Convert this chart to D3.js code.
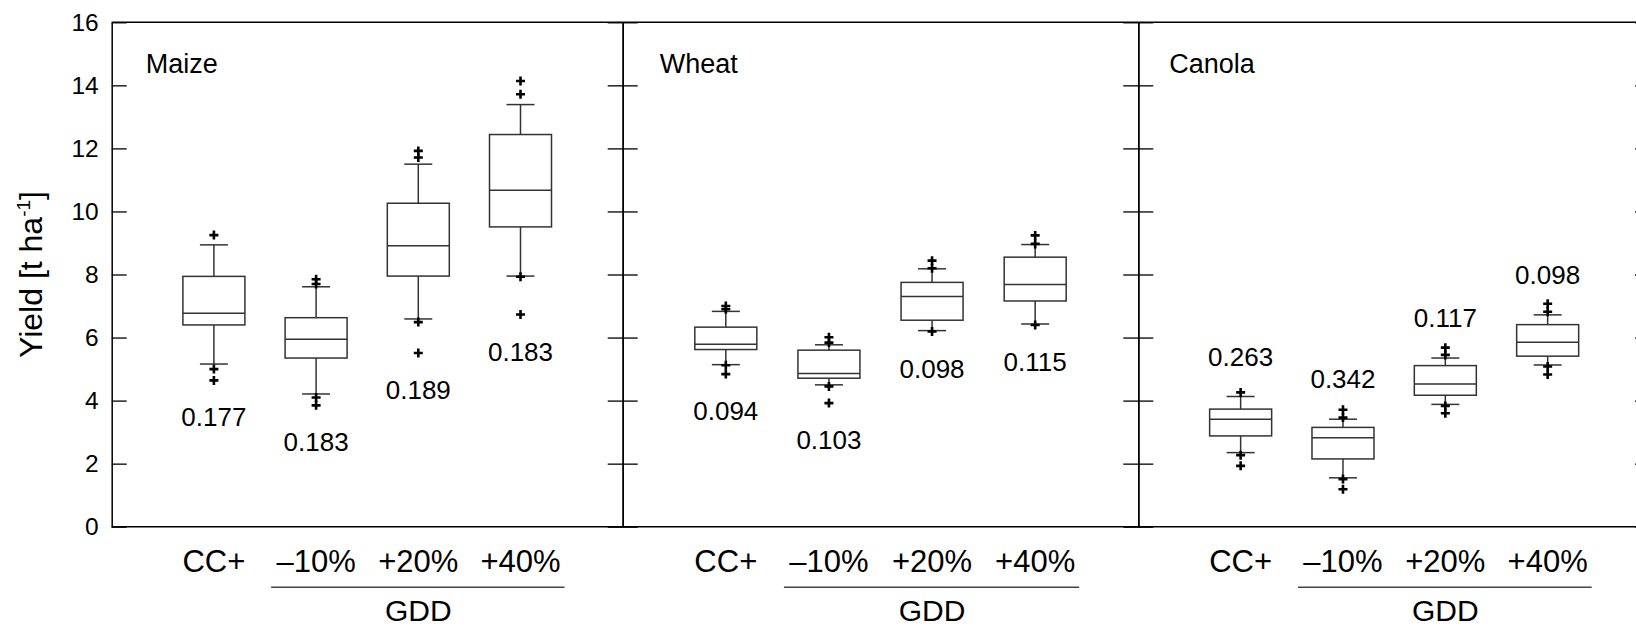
<!DOCTYPE html>
<html>
<head>
<meta charset="utf-8">
<script src="https://cdn.jsdelivr.net/npm/d3@7"></script>
<style>
  html, body { margin: 0; padding: 0; background: #fff; }
  svg { display: block; font-family: "Liberation Sans", Arial, sans-serif; }
</style>
</head>
<body>
<svg id="chart" width="1636" height="628"></svg>
<script>
// ---- data -------------------------------------------------------------
const crops = ["Maize", "Wheat", "Canola"];
const scenarios = ["CC+", "–10%", "+20%", "+40%"];
const groupLabel = "GDD";
const yTicks = [0, 2, 4, 6, 8, 10, 12, 14, 16];

// box statistics per scenario: [lower whisker, Q1, median, Q3, upper whisker]
const maizeStats = [
  [5.16, 6.40, 6.77, 7.94, 8.94],
  [4.21, 5.35, 5.95, 6.63, 7.61],
  [6.59, 7.95, 8.91, 10.26, 11.50],
  [7.95, 9.51, 10.67, 12.44, 13.39]
];
const maizeOutliers = [
  [9.25, 5.00, 4.64],
  [7.85, 7.70, 4.10, 3.85],
  [11.92, 11.71, 6.49, 5.51],
  [14.14, 13.72, 7.93, 6.73]
];
const maizeCV = ["0.177", "0.183", "0.189", "0.183"];

const wheatStats = [
  [5.14, 5.62, 5.79, 6.33, 6.83],
  [4.50, 4.71, 4.86, 5.60, 5.77],
  [6.22, 6.55, 7.30, 7.75, 8.18],
  [6.43, 7.16, 7.68, 8.55, 8.95]
];
const wheatOutliers = [
  [7.00, 6.90, 5.12, 4.84],
  [6.01, 5.84, 4.45, 3.92],
  [8.44, 8.20, 6.19],
  [9.24, 8.97, 6.40]
];
const wheatCV = ["0.094", "0.103", "0.098", "0.115"];

const canolaStats = [
  [2.35, 2.88, 3.41, 3.73, 4.13],
  [1.55, 2.15, 2.82, 3.15, 3.41],
  [3.88, 4.17, 4.53, 5.11, 5.35],
  [5.13, 5.41, 5.85, 6.41, 6.72]
];
const canolaOutliers = [
  [4.26, 2.27, 1.93],
  [3.71, 3.46, 1.51, 1.19],
  [5.68, 5.45, 3.83, 3.60],
  [7.07, 6.82, 5.08, 4.83]
];
const canolaCV = ["0.263", "0.342", "0.117", "0.098"];

const panels = [
  { name: crops[0], stats: maizeStats, outliers: maizeOutliers, cv: maizeCV },
  { name: crops[1], stats: wheatStats, outliers: wheatOutliers, cv: wheatCV },
  { name: crops[2], stats: canolaStats, outliers: canolaOutliers, cv: canolaCV }
];

// ---- layout -----------------------------------------------------------
const panelLeft = [111.7, 622.7, 1138.3];
const panelRight = [622.7, 1138.3, 1650];
const labelSide = ["below", "below", "above"];
const titleInset = [34, 37, 31];
const plotTop = 22.3, plotBottom = 526.7;
const boxW = 62, capW = 28, tickLen = 15;
const font = "Liberation Sans, Arial, sans-serif";

const svg = d3.select("#chart");
const y = d3.scaleLinear().domain([0, 16]).range([plotBottom, plotTop]);

panels.forEach((p, pi) => {
  const x0 = panelLeft[pi], x1 = panelRight[pi];
  const x = d3.scalePoint().domain(scenarios).range([x0, x1]).padding(1);
  const g = svg.append("g");

  // left and right axes, ticks pointing into the panel
  const leftAxis = d3.axisLeft(y).tickValues(yTicks).tickSize(-tickLen).tickSizeOuter(0).tickPadding(13);
  if (pi > 0) leftAxis.tickFormat("");
  const la = g.append("g").attr("transform", `translate(${x0},0)`).call(leftAxis);
  const ra = g.append("g").attr("transform", `translate(${x1},0)`)
    .call(d3.axisRight(y).tickValues(yTicks).tickSize(-tickLen).tickSizeOuter(0).tickFormat(""));
  [la, ra].forEach(a => {
    a.selectAll("path.domain").attr("stroke", "#000").attr("stroke-width", 1.5);
    a.selectAll(".tick line").attr("stroke", "#000").attr("stroke-width", 1.3);
  });
  la.selectAll(".tick text").attr("font-size", 24.5).attr("font-family", font).attr("fill", "#000");

  // top and bottom frame lines
  g.append("line").attr("x1", x0).attr("x2", x1).attr("y1", plotTop).attr("y2", plotTop)
    .attr("stroke", "#000").attr("stroke-width", 1.5);
  g.append("line").attr("x1", x0).attr("x2", x1).attr("y1", plotBottom).attr("y2", plotBottom)
    .attr("stroke", "#000").attr("stroke-width", 1.5);

  // panel title
  g.append("text").attr("x", x0 + titleInset[pi]).attr("y", 72.5).attr("font-size", 27)
    .attr("font-family", font).text(p.name);

  // boxes
  scenarios.forEach((s, i) => {
    const [lo, q1, med, q3, hi] = p.stats[i];
    const cx = x(s);
    const b = g.append("g").attr("stroke", "#333").attr("stroke-width", 1.5).attr("fill", "none");
    b.append("line").attr("x1", cx).attr("x2", cx).attr("y1", y(hi)).attr("y2", y(q3));
    b.append("line").attr("x1", cx).attr("x2", cx).attr("y1", y(q1)).attr("y2", y(lo));
    b.append("line").attr("x1", cx - capW / 2).attr("x2", cx + capW / 2).attr("y1", y(hi)).attr("y2", y(hi));
    b.append("line").attr("x1", cx - capW / 2).attr("x2", cx + capW / 2).attr("y1", y(lo)).attr("y2", y(lo));
    b.append("rect").attr("x", cx - boxW / 2).attr("width", boxW)
      .attr("y", y(q3)).attr("height", y(q1) - y(q3)).attr("fill", "#fff");
    b.append("line").attr("x1", cx - boxW / 2).attr("x2", cx + boxW / 2).attr("y1", y(med)).attr("y2", y(med));

    // outliers
    g.selectAll(null).data(p.outliers[i]).join("path")
      .attr("transform", v => `translate(${cx},${y(v)})`)
      .attr("d", "M-4.5,0H4.5M0,-4.5V4.5")
      .attr("stroke", "#000").attr("stroke-width", 2.6);

    // coefficient-of-variation label
    const ly = labelSide[pi] === "below"
      ? y(d3.min([lo, ...p.outliers[i]])) + 46
      : y(hi) - 31;
    g.append("text").attr("x", cx).attr("y", ly).attr("text-anchor", "middle")
      .attr("font-size", 26).attr("font-family", font).text(p.cv[i]);

    // category label
    g.append("text").attr("x", cx).attr("y", 571.7).attr("text-anchor", "middle")
      .attr("font-size", 31).attr("font-family", font).text(s);
  });

  // GDD group bracket
  const gx0 = x(scenarios[1]) - 45, gx1 = x(scenarios[3]) + 44;
  g.append("line").attr("x1", gx0).attr("x2", gx1).attr("y1", 587.3).attr("y2", 587.3)
    .attr("stroke", "#444").attr("stroke-width", 1.5);
  g.append("text").attr("x", (x(scenarios[1]) + x(scenarios[3])) / 2).attr("y", 621)
    .attr("text-anchor", "middle").attr("font-size", 30).attr("font-family", font).text(groupLabel);
});

// y-axis title
const yt = svg.append("text")
  .attr("transform", `translate(41.5,${(plotTop + plotBottom) / 2}) rotate(-90)`)
  .attr("text-anchor", "middle").attr("font-size", 32).attr("font-family", font);
yt.append("tspan").text("Yield [t ha");
yt.append("tspan").attr("font-size", 19).attr("dy", -12).text("-1");
yt.append("tspan").attr("dy", 12).text("]");
</script>
</body>
</html>
